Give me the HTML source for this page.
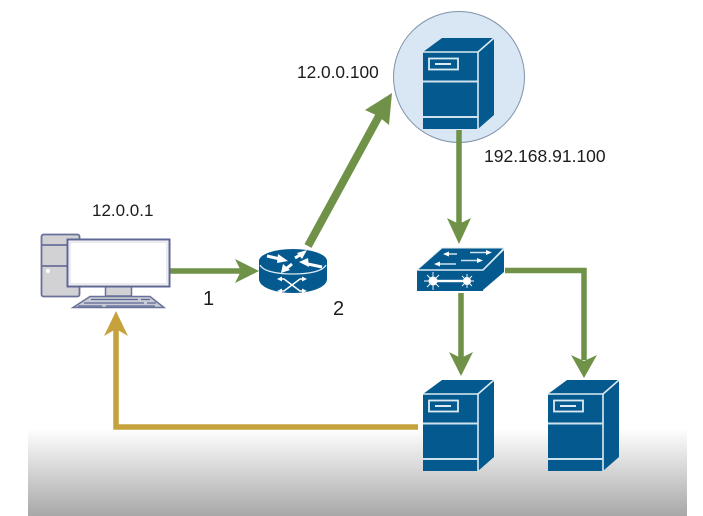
<!DOCTYPE html>
<html><head><meta charset="utf-8"><style>
html,body{margin:0;padding:0;background:#fff;width:703px;height:516px;overflow:hidden}
svg{display:block;filter:blur(.35px)}
text{font-family:"Liberation Sans",sans-serif;fill:#1c1c1c}
</style></head><body>
<svg width="703" height="516" viewBox="0 0 703 516" xmlns="http://www.w3.org/2000/svg">
<defs>
<linearGradient id="g" x1="0" y1="0" x2="0" y2="1"><stop offset="0" stop-color="#fff"/><stop offset="1" stop-color="#a8a8a8"/></linearGradient>
<g id="srv">
<polygon points="0,14 19,0 71,0 55,14" fill="#04598f"/>
<polygon points="55,14 71,0 71,77 55,91" fill="#04598f"/>
<rect x="0" y="14" width="55" height="77" fill="#04598f"/>
<path d="M0,14H55V91M55,14L71,0" fill="none" stroke="#dcebf3" stroke-width="1.600"/>
<path d="M0,43.500H55M0,79H55" stroke="#cfe3ee" stroke-width="2"/>
<rect x="6" y="20.500" width="29" height="11" fill="none" stroke="#dcebf3" stroke-width="1.800"/>
<rect x="12" y="25" width="16" height="2" fill="#dcebf3"/>
</g>
</defs>
<rect x="28" y="429" width="659" height="87" fill="url(#g)"/>

<circle cx="459" cy="77" r="65.500" fill="#d9e6f4" stroke="#7f93ab" stroke-width="1"/>
<use href="#srv" x="423" y="38"/>
<use href="#srv" x="423" y="380"/>
<use href="#srv" x="548" y="380"/>

<!-- arrows -->
<g fill="none" stroke="#6f9148" stroke-width="5.500">
<path d="M170,271H242"/>
<path d="M308,246L379,116" stroke-width="8"/>
<path d="M459,130V226"/>
<path d="M461,293V358"/>
<path d="M505,270.500H584V360"/>
</g>
<g fill="#6f9148">
<polygon points="259,271 235,259 241,271 235,283"/>
<polygon points="392,93 365,110 378,116 389,125"/>
<polygon points="459,244 447,218 459,224 471,218"/>
<polygon points="461,376 449,352 461,358 473,352"/>
<polygon points="584,378 571,355 584,361 597,355"/>
</g>
<path d="M418,427H116V326" fill="none" stroke="#c6a23c" stroke-width="5.500"/>
<polygon points="116,311 104,336 116,329 128,336" fill="#c6a23c"/>

<!-- PC -->
<rect x="41.500" y="234.500" width="38" height="62" rx="2" fill="#d2d2d4" stroke="#6a7199" stroke-width="1.800"/>
<path d="M41,245H68M41,266H68" stroke="#6a7199" stroke-width="1.800"/>
<circle cx="48" cy="271" r="2" fill="#fff"/>
<rect x="105.500" y="286" width="26" height="10" fill="#d2d2d4" stroke="#6a7199" stroke-width="1.500"/>
<rect x="67.500" y="239.500" width="102" height="47" fill="#fff" stroke="#5d6795" stroke-width="2"/>
<rect x="70" y="242" width="97" height="42" fill="none" stroke="#d8d8de" stroke-width="1"/>
<polygon points="90,296.500 150,296.500 164,307.500 73,307.500" fill="#c9ccd6" stroke="#6a7199" stroke-width="1.500"/>
<path d="M91,299.500H138M141,299.500H150M84,303H144M147,303H156M78,306H102M106,306H155" stroke="#5d6795" stroke-width="1.300"/>

<!-- router -->
<path d="M259,261V279C259,287 274,293 293,293C312,293 327,287 327,279V261Z" fill="#04598f"/>
<ellipse cx="293" cy="261" rx="34" ry="12" fill="#04598f"/>
<path d="M260,265C263,271 276,274 293,274C310,274 323,271 326,265" fill="none" stroke="#dcebf3" stroke-width="1.300"/>
<g fill="none" stroke="#fff" stroke-width="3">
<path d="M267,256L280,259M300,255L295,258M322,267L308,264M292,264L287,268"/>
</g>
<g fill="#fff">
<polygon points="288,261 278,254 277,263"/>
<polygon points="307,250 297,253 302,259"/>
<polygon points="299,262 308,258 309,267"/>
<polygon points="281,273 283,264 290,270"/>
</g>
<path d="M280,279H284L300,291H304M280,291H284L300,279H304" fill="none" stroke="#fff" stroke-width="1.500"/>
<polygon points="277,279 282,276.500 282,281.500" fill="#fff"/>
<polygon points="277,291 282,288.500 282,293" fill="#fff"/>
<polygon points="307,279 302,276.500 302,281.500" fill="#fff"/>
<polygon points="307,291 302,288.500 302,293" fill="#fff"/>

<!-- switch -->
<polygon points="417,270 442,248 504,248 483,270" fill="#04598f" stroke="#dcebf3" stroke-width="1"/>
<polygon points="483,270 504,250 504,272 483,290" fill="#04598f"/>
<rect x="417" y="270" width="66" height="21" fill="#04598f"/>
<path d="M417,270H483L504,249" fill="none" stroke="#dcebf3" stroke-width="1.600"/>
<path d="M445,254H457M470,252.500H489M436,264H456M461,260.500H481" stroke="#cfe3ee" stroke-width="1.500"/>
<g fill="#fff">
<polygon points="443,254 449,251.500 449,256.500"/><polygon points="492,252.500 486,250 486,255"/>
<polygon points="434,264 440,261.500 440,266.500"/><polygon points="483,260.500 477,258 477,263"/>
<circle cx="433" cy="281" r="4.500"/><circle cx="467" cy="281" r="4"/>
<rect x="435" y="279.800" width="30" height="2.400"/>
</g>
<path d="M424,281H442M433,272V290M427,275L439,287M439,275L427,287M460,281H474M467,274V288M462,276L472,286M472,276L462,286" stroke="#fff" stroke-width=".9"/>

<text x="92" y="216" font-size="17">12.0.0.1</text>
<text x="297" y="78" font-size="17.300">12.0.0.100</text>
<text x="484" y="162" font-size="17.500">192.168.91.100</text>
<text x="203" y="305" font-size="20">1</text>
<text x="333" y="315" font-size="20">2</text>
</svg>
</body></html>
